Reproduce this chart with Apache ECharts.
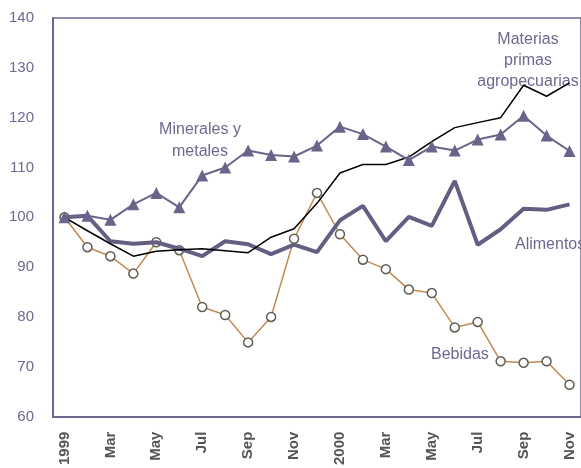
<!DOCTYPE html>
<html>
<head>
<meta charset="utf-8">
<script src="https://cdn.jsdelivr.net/npm/echarts@6/dist/echarts.min.js"></script>
<style>html,body{margin:0;padding:0;background:#fff}#c{width:581px;height:468px}</style>
</head>
<body>
<div id="c"></div>
<script>
var categories = ['1999','Feb','Mar','Abr','May','Jun','Jul','Ago','Sep','Oct','Nov','Dic',
                  '2000','Feb','Mar','Abr','May','Jun','Jul','Ago','Sep','Oct','Nov'];
var yTicks = [60, 70, 80, 90, 100, 110, 120, 130, 140];
var minerales = [100, 100.3, 99.5, 102.6, 104.9, 102.0, 108.4, 110.0, 113.4, 112.5, 112.2, 114.4,
                 118.2, 116.7, 114.2, 111.5, 114.2, 113.4, 115.6, 116.6, 120.4, 116.4, 113.3];
var materias = [100, 97.3, 94.7, 92.2, 93.2, 93.5, 93.7, 93.3, 92.9, 96.0, 97.7, 102.8,
                108.9, 110.6, 110.6, 112.1, 115.2, 118.0, 119.0, 120.0, 126.5, 124.3, 127.0];
var alimentos = [100, 100.3, 95.2, 94.7, 95.0, 93.7, 92.2, 95.2, 94.6, 92.6, 94.5, 93.0,
                 99.4, 102.3, 95.2, 100.1, 98.3, 107.3, 94.5, 97.6, 101.7, 101.5, 102.6];
var bebidas = [100, 94.0, 92.2, 88.7, 95.0, 93.4, 82.0, 80.4, 74.9, 80.0, 95.7, 104.9,
               96.6, 91.5, 89.6, 85.5, 84.8, 77.9, 79.0, 71.1, 70.8, 71.1, 66.4];

var axisColor = '#6e6890';
var textColor = '#6e6890';
var FONT = '16px "Liberation Sans", Arial, sans-serif';
var chart = echarts.init(document.getElementById('c'));
var catW = 23.4;
chart.setOption({
  animation: false,
  backgroundColor: '#fff',
  grid: {left: 53, top: 18, width: catW * categories.length, height: 402,
         show: true, borderColor: axisColor, borderWidth: 1.5, backgroundColor: 'transparent'},
  xAxis: {
    type: 'category', data: categories, boundaryGap: true,
    axisLine: {lineStyle: {color: axisColor, width: 2}},
    axisTick: {inside: true, length: 6, interval: 0, lineStyle: {color: axisColor, width: 1}},
    axisLabel: {interval: 1, rotate: 90, margin: 15, color: '#555', fontSize: 15, fontWeight: 'bold',
                fontFamily: 'Liberation Sans, Arial, sans-serif'},
    splitLine: {show: false}
  },
  yAxis: {
    type: 'value', min: yTicks[0], max: yTicks[yTicks.length - 1], interval: 10,
    axisLine: {show: true, lineStyle: {color: axisColor, width: 2}},
    axisTick: {show: false},
    splitLine: {show: false},
    axisLabel: {color: textColor, fontSize: 15, margin: 19, fontFamily: 'Liberation Sans, Arial, sans-serif'}
  },
  series: [
    {name: 'Bebidas', type: 'line', data: bebidas, symbol: 'circle', symbolSize: 9,
     lineStyle: {color: '#c08a52', width: 1.5},
     itemStyle: {color: '#fff', borderColor: '#5e5e52', borderWidth: 1.5}, z: 2},
    {name: 'Alimentos', type: 'line', data: alimentos, symbol: 'none',
     lineStyle: {color: '#655d82', width: 4}, z: 3},
    {name: 'Materias primas agropecuarias', type: 'line', data: materias, symbol: 'none',
     lineStyle: {color: '#000', width: 1.5}, z: 4},
    {name: 'Minerales y metales', type: 'line', data: minerales, symbol: 'triangle', symbolSize: 12,
     lineStyle: {color: '#6b6389', width: 2},
     itemStyle: {color: '#6b6389'}, z: 5}
  ],
  graphic: [
    {type: 'text', x: 200, y: 119, style: {text: 'Minerales y\nmetales', fill: textColor,
      font: FONT, align: 'center', verticalAlign: 'top', lineHeight: 22}},
    {type: 'text', x: 528, y: 29, style: {text: 'Materias\nprimas\nagropecuarias', fill: textColor,
      font: FONT, align: 'center', verticalAlign: 'top', lineHeight: 21}},
    {type: 'text', x: 515, y: 237, style: {text: 'Alimentos', fill: textColor, font: FONT, verticalAlign: 'top'}},
    {type: 'text', x: 431, y: 347, style: {text: 'Bebidas', fill: textColor, font: FONT, verticalAlign: 'top'}}
  ]
});
</script>
</body>
</html>
